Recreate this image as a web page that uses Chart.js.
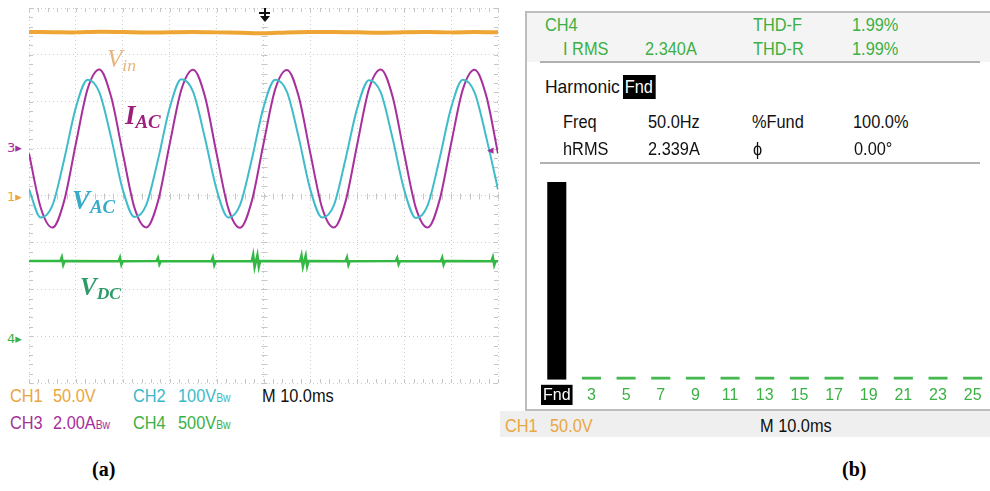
<!DOCTYPE html>
<html>
<head>
<meta charset="utf-8">
<script src="https://cdn.jsdelivr.net/npm/chart.js@4.4.0/dist/chart.umd.min.js"></script>
<style>
  body { margin:0; width:990px; height:491px; background:#fff; position:relative; overflow:hidden;
         font-family:"Liberation Sans",Arial,sans-serif; }
  canvas { position:absolute; }
  .t { position:absolute; white-space:nowrap; line-height:1; font-size:19px; transform:scaleX(0.86); transform-origin:0 0; }
  .bw { font-size:12px; }
  .lbl { position:absolute; white-space:nowrap; line-height:1; font-family:"Liberation Serif","DejaVu Serif",serif;
         font-style:italic; font-weight:bold; font-size:27px; }
  .lbl sub { font-size:0.7em; vertical-align:-0.2em; line-height:0; }
  .mk { position:absolute; line-height:1; font-size:13px; font-family:"DejaVu Sans",sans-serif; }
  .ln { position:absolute; background:#bdbdbd; }
  .cap { position:absolute; font-family:"Liberation Serif",serif; font-weight:bold; font-size:20px; line-height:1; }
  .org { color:#eaa640; } .cya { color:#3cb9c8; } .pur { color:#a4309a; } .grn { color:#3cb044; } .blk { color:#111; }
</style>
</head>
<body>

<!-- (a) scope screen -->
<canvas id="scope" width="473" height="379" style="left:27px;top:6px"></canvas>

<div class="lbl" style="left:107px;top:46px;color:#e8b57e;font-weight:normal;font-size:25px">V<sub>in</sub></div>
<div class="lbl" style="left:125px;top:102px;color:#9c1f7c">I<sub>AC</sub></div>
<div class="lbl" style="left:72px;top:187px;color:#37abc8">V<sub>AC</sub></div>
<div class="lbl" style="left:80px;top:274px;color:#2f9a6a;font-size:25px">V<sub>DC</sub></div>

<div class="mk pur" style="left:7px;top:141px">3▸</div>
<div class="mk org" style="left:7px;top:190px">1▸</div>
<div class="mk grn" style="left:7px;top:332px">4▸</div>
<div class="mk pur" style="left:487px;top:143px">◂</div>

<div class="t org" style="left:10px;top:386px">CH1</div>
<div class="t org" style="left:53px;top:386px">50.0V</div>
<div class="t cya" style="left:133px;top:386px">CH2</div>
<div class="t cya" style="left:178px;top:386px">100V<span class="bw">Bw</span></div>
<div class="t blk" style="left:262px;top:386px">M 10.0ms</div>
<div class="t pur" style="left:10px;top:413px">CH3</div>
<div class="t pur" style="left:53px;top:413px">2.00A<span class="bw">Bw</span></div>
<div class="t grn" style="left:133px;top:413px">CH4</div>
<div class="t grn" style="left:178px;top:413px">500V<span class="bw">Bw</span></div>

<!-- (b) harmonics screen -->
<div style="position:absolute;left:526px;top:13px;width:464px;height:49px;background:#f4f4f4"></div>
<div class="ln" style="left:525px;top:11px;width:465px;height:2px"></div>
<div class="ln" style="left:525px;top:11px;width:2px;height:400px"></div>
<div class="ln" style="left:540px;top:61px;width:440px;height:2px;background:#b0b0b0"></div>
<div class="ln" style="left:540px;top:162px;width:440px;height:2px;background:#b0b0b0"></div>
<div style="position:absolute;left:500px;top:411px;width:490px;height:26px;background:#efefef"></div>
<div class="ln" style="left:525px;top:409px;width:465px;height:2px"></div>

<div class="t grn" style="left:545px;top:15px">CH4</div>
<div class="t grn" style="left:563px;top:39px">I RMS</div>
<div class="t grn" style="left:645px;top:39px">2.340A</div>
<div class="t grn" style="left:753px;top:15px">THD-F</div>
<div class="t grn" style="left:852px;top:15px">1.99%</div>
<div class="t grn" style="left:753px;top:39px">THD-R</div>
<div class="t grn" style="left:852px;top:39px">1.99%</div>

<div class="t blk" style="left:545px;top:77px;transform:scaleX(0.92)">Harmonic</div>
<div class="t" style="left:623px;top:75px;background:#000;color:#fff;padding:2px 3px 3px 2px">Fnd</div>
<div class="t blk" style="left:563px;top:112px">Freq</div>
<div class="t blk" style="left:648px;top:112px">50.0Hz</div>
<div class="t blk" style="left:752px;top:112px">%Fund</div>
<div class="t blk" style="left:853px;top:112px">100.0%</div>
<div class="t blk" style="left:563px;top:139px">hRMS</div>
<div class="t blk" style="left:648px;top:139px">2.339A</div>
<div class="t blk" style="left:753px;top:139px">ϕ</div>
<div class="t blk" style="left:854px;top:139px">0.00°</div>

<canvas id="harm" width="453" height="237" style="left:537px;top:176px"></canvas>

<div class="t org" style="left:505px;top:416px">CH1</div>
<div class="t org" style="left:550px;top:416px">50.0V</div>
<div class="t blk" style="left:760px;top:416px">M 10.0ms</div>

<div class="cap" style="left:92px;top:459px">(a)</div>
<div class="cap" style="left:842px;top:459px">(b)</div>

<script>
// time base of the AC traces (ms), 10 ms/div
const tAC = [0, 2.5, 5, 7.5, 10, 12.5, 15, 17.5, 20, 22.5, 25, 27.5, 30, 32.5, 35, 37.5,
  40, 42.5, 45, 47.5, 50, 52.5, 55, 57.5, 60, 62.5, 65, 67.5, 70, 72.5, 75, 77.5,
  80, 82.5, 85, 87.5, 90, 92.5, 95, 97.5, 100];
// CH3 grid current (A)
const iAC = [-0.21, -2.52, -3.37, -2.23, 0.22, 2.55, 3.38, 2.22, -0.20, -2.53, -3.36, -2.25, 0.20, 2.53, 3.37, 2.24,
  -0.22, -2.55, -3.38, -2.24, 0.21, 2.54, 3.36, 2.23, -0.21, -2.53, -3.37, -2.25, 0.20, 2.55, 3.38, 2.24,
  -0.22, -2.54, -3.37, -2.23, 0.21, 2.53, 3.37, 2.25, -0.21];
// CH2 grid voltage (V)
const vAC = [-87, -147, -121, -23, 88, 147, 120, 24, -88, -146, -120, -24, 87, 148, 121, 23,
  -87, -147, -120, -23, 88, 147, 121, 24, -88, -147, -121, -22, 87, 146, 120, 23,
  -88, -148, -121, -23, 87, 147, 120, 24, -87];
// CH1 input voltage (V)
const tVin = [0, 5, 10, 15, 20, 25, 30, 35, 40, 45, 50, 55, 60, 65, 70, 75, 80, 85, 90, 95, 100];
const vIn = [174.5, 174.2, 174.0, 174.6, 174.3, 173.8, 174.1, 174.4, 174.0, 173.6, 173.0, 173.9,
  174.3, 174.5, 174.1, 173.7, 174.2, 174.4, 174.0, 174.3, 174.1];
// CH4 dc-link voltage (V) with switching spikes
const tDC = [0, 6.7, 7.0, 7.3, 7.6, 19.1, 19.4, 19.7, 20.0, 27.2, 27.5, 27.8, 28.1,
  38.9, 39.2, 39.5, 39.8, 47.5, 47.8, 48.1, 48.4, 48.7, 49.0, 49.3,
  57.8, 58.1, 58.4, 58.7, 59.0, 59.3, 59.6, 67.5, 67.8, 68.1, 68.4,
  78.2, 78.5, 78.8, 79.1, 87.8, 88.1, 88.4, 88.7, 98.6, 98.9, 99.2, 99.5, 100];
const vDC = [800, 802, 842, 760, 801, 799, 838, 762, 800, 801, 834, 766, 800,
  800, 840, 760, 799, 801, 868, 736, 800, 864, 740, 801,
  800, 860, 742, 800, 858, 744, 800, 799, 840, 760, 800,
  801, 834, 766, 800, 800, 838, 762, 800, 799, 842, 758, 800, 800];

// scope channel settings: units per division and ground marker position (div from centre)
const voltsPerDiv = { ch1: 50, ch2: 100, ch3: 2, ch4: 500 };
const groundDiv = { ch1: 0, ch2: 1, ch3: 1, ch4: -3 };

// harmonic spectrum of CH4 current (% of fundamental)
const harmOrders = ['Fnd', '3', '5', '7', '9', '11', '13', '15', '17', '19', '21', '23', '25'];
const harmPercent = [100, 0.9, 0.6, 0.5, 0.4, 0.4, 0.3, 0.3, 0.3, 0.2, 0.2, 0.2, 0.2];

const pts = (xs, ys) => xs.map((x, i) => ({ x: x, y: ys[i] }));

function chAxis(ch) {
  return { display: false, min: (-4 - groundDiv[ch]) * voltsPerDiv[ch], max: (4 - groundDiv[ch]) * voltsPerDiv[ch] };
}

const scopeTicks = {
  id: 'scopeTicks',
  beforeDatasetsDraw(chart) {
    const { ctx, chartArea: a, scales: { x, y } } = chart;
    const cx = Math.round(x.getPixelForValue(50)) + 0.5;
    const cy = Math.round(y.getPixelForValue(0)) + 0.5;
    ctx.save();
    ctx.strokeStyle = '#c6c6c6';
    ctx.lineWidth = 1;
    ctx.beginPath();
    for (let v = 0; v <= 100; v += 2) {
      const px = Math.round(x.getPixelForValue(v)) + 0.5;
      ctx.moveTo(px, cy - 3); ctx.lineTo(px, cy + 3);
      ctx.moveTo(px, a.top); ctx.lineTo(px, a.top + 4);
      ctx.moveTo(px, a.bottom); ctx.lineTo(px, a.bottom - 4);
    }
    for (let i = -20; i <= 20; i++) {
      const py = Math.round(y.getPixelForValue(i / 5)) + 0.5;
      ctx.moveTo(cx - 3, py); ctx.lineTo(cx + 3, py);
      ctx.moveTo(a.left, py); ctx.lineTo(a.left + 4, py);
      ctx.moveTo(a.right, py); ctx.lineTo(a.right - 4, py);
    }
    ctx.stroke();
    ctx.restore();
  },
  afterDraw(chart) {
    // trigger position marker
    const { ctx, chartArea: a, scales: { x } } = chart;
    const px = Math.round(x.getPixelForValue(50));
    ctx.save();
    ctx.fillStyle = '#111';
    ctx.fillRect(px - 5, a.top + 4, 11, 2);
    ctx.fillRect(px, a.top, 2, 9);
    ctx.beginPath();
    ctx.moveTo(px - 4, a.top + 8); ctx.lineTo(px + 6, a.top + 8); ctx.lineTo(px + 1, a.top + 14);
    ctx.closePath(); ctx.fill();
    ctx.restore();
  }
};

new Chart(document.getElementById('scope').getContext('2d'), {
  type: 'line',
  data: {
    datasets: [
      { data: pts(tDC, vDC), yAxisID: 'ch4', borderColor: '#33b844', borderWidth: 2.5, tension: 0 },
      { data: pts(tVin, vIn), yAxisID: 'ch1', borderColor: '#eea533', borderWidth: 4, tension: 0.3 },
      { data: pts(tAC, vAC), yAxisID: 'ch2', borderColor: '#3fbcca', borderWidth: 2, cubicInterpolationMode: 'monotone' },
      { data: pts(tAC, iAC), yAxisID: 'ch3', borderColor: '#a8309c', borderWidth: 2, cubicInterpolationMode: 'monotone' }
    ]
  },
  options: {
    responsive: false,
    animation: false,
    layout: { padding: 2 },
    elements: { point: { radius: 0 } },
    plugins: { legend: { display: false }, tooltip: { enabled: false } },
    scales: {
      x: { type: 'linear', min: 0, max: 100,
           ticks: { display: false, stepSize: 10 },
           grid: { color: '#cdcdcd', drawTicks: false },
           border: { display: false, dash: [1, 3] } },
      y: { min: -4, max: 4,
           ticks: { display: false, stepSize: 1 },
           grid: { color: '#cdcdcd', drawTicks: false },
           border: { display: false, dash: [1, 3] } },
      ch1: chAxis('ch1'), ch2: chAxis('ch2'), ch3: chAxis('ch3'), ch4: chAxis('ch4')
    }
  },
  plugins: [scopeTicks]
});

new Chart(document.getElementById('harm').getContext('2d'), {
  type: 'bar',
  data: {
    labels: harmOrders,
    datasets: [{
      data: harmPercent,
      backgroundColor: harmOrders.map((h, i) => i === 0 ? '#000' : '#45b84f'),
      barPercentage: 1,
      categoryPercentage: 0.55,
      minBarLength: 3
    }]
  },
  options: {
    responsive: false,
    animation: false,
    layout: { padding: { top: 6, left: 0, right: 0, bottom: 2 } },
    plugins: { legend: { display: false }, tooltip: { enabled: false } },
    scales: {
      x: { grid: { display: false, drawTicks: false }, border: { display: false },
           ticks: { padding: 6, autoSkip: false, maxRotation: 0,
                    font: { family: 'Liberation Sans', size: 16 },
                    color: c => c.index === 0 ? '#fff' : '#3cb044',
                    showLabelBackdrop: true,
                    backdropPadding: { top: 1, bottom: 0, left: 2, right: 2 },
                    backdropColor: c => c.index === 0 ? '#000' : 'rgba(0,0,0,0)' } },
      y: { display: false, min: 0, max: 100 }
    }
  }
});
</script>
</body>
</html>
